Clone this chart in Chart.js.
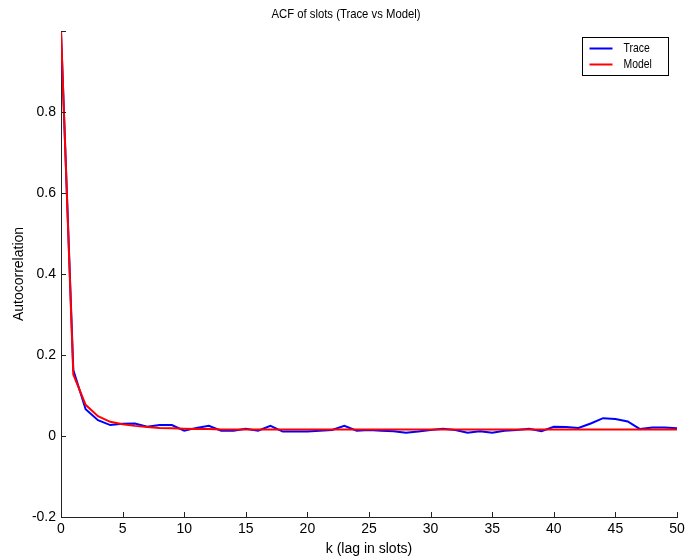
<!DOCTYPE html>
<html>
<head>
<meta charset="utf-8">
<script src="https://cdn.jsdelivr.net/npm/chart.js@4/dist/chart.umd.min.js"></script>
<style>
  html, body { margin: 0; padding: 0; background: #fff; }
  canvas { display: block; }
</style>
</head>
<body>
<canvas id="myChart" width="686" height="559"></canvas>
<script>
// lag values (k)
const lags = [0, 1, 2, 3, 4, 5, 6, 7, 8, 9, 10, 11, 12, 13, 14, 15, 16, 17, 18, 19, 20,
  21, 22, 23, 24, 25, 26, 27, 28, 29, 30, 31, 32, 33, 34, 35, 36, 37, 38, 39, 40,
  41, 42, 43, 44, 45, 46, 47, 48, 49, 50]

const traceAcf = [1.0, 0.163, 0.066, 0.039, 0.027, 0.030, 0.031, 0.023, 0.027, 0.027, 0.013,
  0.020, 0.025, 0.013, 0.013, 0.018, 0.013, 0.025, 0.011, 0.011, 0.011,
  0.013, 0.015, 0.025, 0.013, 0.015, 0.013, 0.012, 0.008, 0.011, 0.015,
  0.018, 0.015, 0.008, 0.012, 0.008, 0.013, 0.015, 0.018, 0.012, 0.023,
  0.022, 0.020, 0.031, 0.044, 0.042, 0.036, 0.017, 0.021, 0.021, 0.019]

const modelAcf = [1.0, 0.152, 0.077, 0.049, 0.035, 0.029, 0.025, 0.022, 0.020, 0.019, 0.018,
  0.017, 0.017, 0.016, 0.016, 0.016, 0.016, 0.016, 0.016, 0.016, 0.016,
  0.016, 0.016, 0.016, 0.016, 0.016, 0.016, 0.016, 0.016, 0.016, 0.016,
  0.016, 0.016, 0.016, 0.016, 0.016, 0.016, 0.016, 0.016, 0.016, 0.016,
  0.016, 0.016, 0.016, 0.016, 0.016, 0.016, 0.016, 0.016, 0.016, 0.016]

const xTicks = [0, 5, 10, 15, 20, 25, 30, 35, 40, 45, 50]
const yTicks = [-0.2, 0, 0.2, 0.4, 0.6, 0.8, 1.0]

const chartTitle = 'ACF of slots (Trace vs Model)'
const plainFont = "'Liberation Sans', Arial, sans-serif"

const toPoints = (vals) => lags.map((k, i) => ({ x: k, y: vals[i] }))

// draw text squeezed sideways, the original uses a narrow helvetica
function narrowText(ctx, text, x, y, squeeze, align) {
  ctx.save()
  ctx.translate(x, y)
  ctx.scale(squeeze, 1)
  ctx.textAlign = align
  ctx.fillText(text, 0, 0)
  ctx.restore()
}

// MATLAB style: title, ticks pointing inward, legend box in the top right corner
const matlabBits = {
  id: 'matlabBits',
  afterDraw(chart) {
    const ctx = chart.ctx
    const area = chart.chartArea
    const xs = chart.scales.x
    const ys = chart.scales.y
    ctx.save()

    ctx.fillStyle = '#000'
    ctx.font = '13px ' + plainFont
    ctx.textBaseline = 'middle'
    narrowText(ctx, chartTitle, 346, 14, 0.87, 'center')

    ctx.strokeStyle = '#222'
    ctx.lineWidth = 1
    ctx.beginPath()
    xTicks.forEach(t => {
      const px = Math.round(xs.getPixelForValue(t)) + 0.5
      ctx.moveTo(px, area.bottom)
      ctx.lineTo(px, area.bottom - 5)
    })
    yTicks.forEach(t => {
      const py = Math.round(ys.getPixelForValue(t)) + 0.5
      ctx.moveTo(area.left, py)
      ctx.lineTo(area.left + 5, py)
    })
    ctx.stroke()

    // legend
    const bx = 582.5, by = 37.5, bw = 86, bh = 38
    ctx.fillStyle = '#fff'
    ctx.fillRect(bx, by, bw, bh)
    ctx.strokeStyle = '#000'
    ctx.strokeRect(bx, by, bw, bh)
    chart.data.datasets.forEach((ds, i) => {
      const y = by + 11 + i * 16
      ctx.strokeStyle = ds.borderColor
      ctx.lineWidth = 2
      ctx.beginPath()
      ctx.moveTo(bx + 7, y)
      ctx.lineTo(bx + 30, y)
      ctx.stroke()
      ctx.fillStyle = '#000'
      narrowText(ctx, ds.label, bx + 41, y, 0.8, 'left')
    })
    ctx.restore()
  }
}

const config = {
  type: 'line',
  data: {
    datasets: [{
      label: 'Trace',
      data: toPoints(traceAcf),
      borderColor: '#0000ff',
      borderWidth: 2,
      pointRadius: 0,
      tension: 0,
      order: 1
    }, {
      label: 'Model',
      data: toPoints(modelAcf),
      borderColor: '#ff0000',
      borderWidth: 2,
      pointRadius: 0,
      tension: 0,
      order: 0
    }]
  },
  options: {
    responsive: false,
    animation: false,
    devicePixelRatio: 1,
    layout: { padding: { left: 0, right: 9, top: 31, bottom: 0 } },
    plugins: {
      legend: { display: false },
      tooltip: { enabled: false },
      title: { display: false }
    },
    scales: {
      x: {
        type: 'linear',
        min: 0,
        max: 50,
        grid: { display: false, drawTicks: false },
        border: { display: true, color: '#222', width: 1 },
        ticks: {
          stepSize: 5,
          color: '#000',
          padding: 4,
          font: { family: plainFont, size: 14 }
        },
        title: {
          display: true,
          text: 'k (lag in slots)',
          color: '#000',
          font: { family: plainFont, size: 14 },
          padding: { top: 0, bottom: 1 }
        },
        afterFit: (scale) => {
          scale.height = 42
          scale.paddingRight = 0
          scale.paddingLeft = 0
        }
      },
      y: {
        min: -0.2,
        max: 1.0,
        grid: { display: false, drawTicks: false },
        border: { display: true, color: '#222', width: 1 },
        ticks: {
          stepSize: 0.2,
          color: '#000',
          padding: 5,
          font: { family: plainFont, size: 14 },
          callback: (v) => Math.abs(v - 1) < 1e-9 ? '' : String(Math.round(v * 10) / 10)
        },
        title: {
          display: true,
          text: 'Autocorrelation',
          color: '#000',
          font: { family: plainFont, size: 14 },
          padding: { top: 11, bottom: 0 }
        },
        afterFit: (scale) => {
          scale.width = 61
          scale.paddingTop = 0
          scale.paddingBottom = 0
        }
      }
    }
  },
  plugins: [matlabBits]
}

const myChart = new Chart(document.getElementById('myChart'), config)
</script>
</body>
</html>
